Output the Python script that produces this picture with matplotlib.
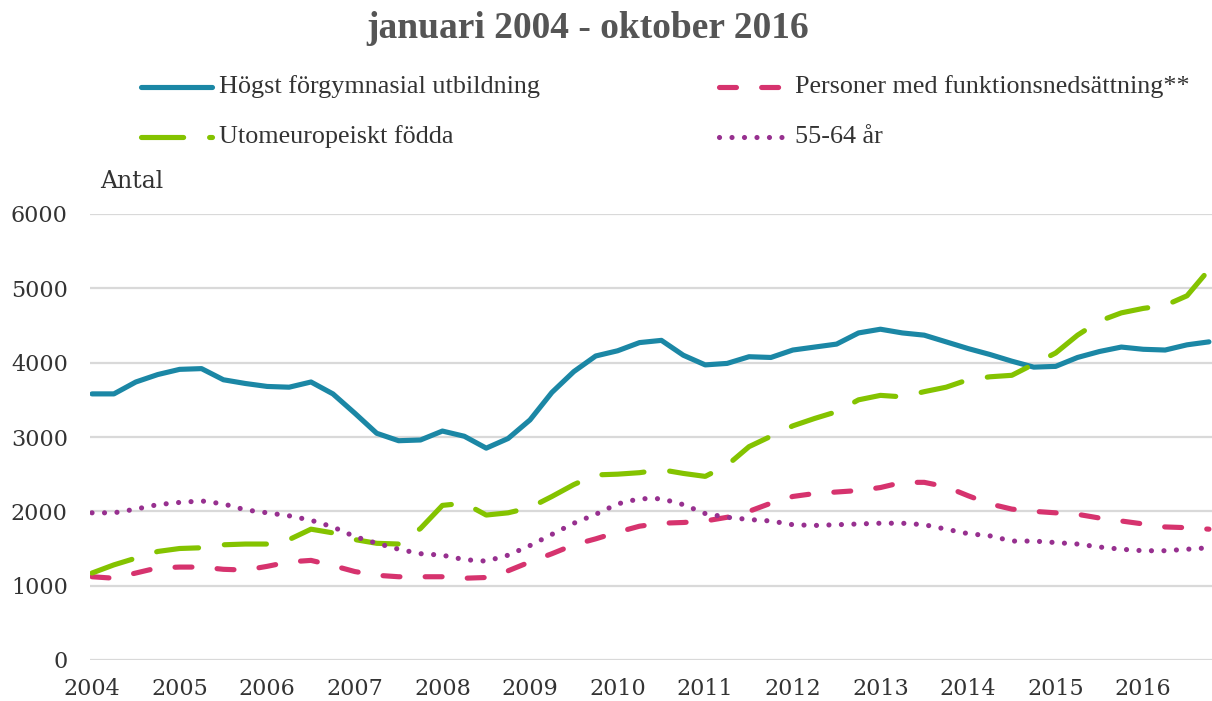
import numpy as np
import pandas as pd
import matplotlib
matplotlib.use("Agg")
import matplotlib.pyplot as plt
from matplotlib.lines import Line2D

# ---- data (quarterly readings, Jan 2004 - Oct 2016) ----
dates = pd.date_range("2004-01-01", "2016-10-01", freq="3MS")

forgymnasial = [3580, 3580, 3740, 3840, 3910, 3920, 3770, 3720, 3680, 3670, 3740, 3580,
                3320, 3050, 2950, 2960, 3080, 3010, 2850, 2980, 3230, 3600, 3880, 4090,
                4160, 4270, 4300, 4100, 3970, 3990, 4080, 4070, 4170, 4210, 4250, 4400,
                4450, 4400, 4370, 4280, 4190, 4110, 4020, 3940, 3950, 4070, 4150, 4210,
                4180, 4170, 4240, 4280]
utomeuropeiskt = [1170, 1280, 1370, 1460, 1500, 1510, 1550, 1560, 1560, 1620, 1760, 1710,
                  1620, 1570, 1560, 1770, 2080, 2110, 1950, 1980, 2050, 2200, 2360, 2490,
                  2500, 2520, 2560, 2510, 2470, 2620, 2870, 3010, 3150, 3250, 3340, 3500,
                  3560, 3540, 3610, 3670, 3770, 3810, 3830, 3980, 4130, 4370, 4560, 4670,
                  4730, 4770, 4900, 5250]
funktionsnedsattning = [1120, 1100, 1170, 1240, 1250, 1250, 1220, 1210, 1260, 1320, 1340, 1270,
                        1190, 1140, 1120, 1120, 1120, 1100, 1110, 1200, 1320, 1430, 1550, 1630,
                        1720, 1800, 1840, 1850, 1870, 1920, 2000, 2110, 2200, 2240, 2260, 2280,
                        2320, 2390, 2390, 2330, 2210, 2100, 2030, 2000, 1980, 1960, 1910, 1870,
                        1830, 1790, 1780, 1760]
ar_55_64 = [1980, 1980, 2030, 2090, 2120, 2140, 2100, 2020, 1980, 1940, 1880, 1790,
            1660, 1570, 1490, 1430, 1410, 1350, 1330, 1410, 1540, 1690, 1840, 1960,
            2100, 2170, 2170, 2090, 1970, 1920, 1890, 1870, 1820, 1810, 1820, 1830,
            1840, 1840, 1820, 1760, 1700, 1670, 1600, 1600, 1580, 1560, 1520, 1490,
            1470, 1470, 1490, 1510]

years = list(range(2004, 2017))
yticks = [0, 1000, 2000, 3000, 4000, 5000, 6000]
labels = ["Högst förgymnasial utbildning", "Personer med funktionsnedsättning**",
          "Utomeuropeiskt födda", "55-64 år"]
title = "januari 2004 - oktober 2016"

# ---- styles ----
BLUE, PINK, GREEN, PURPLE = "#1B87A5", "#D6336E", "#84C300", "#97308F"
LW = 3.7
styles = {
    "blue": dict(color=BLUE, lw=LW, ls="-", solid_capstyle="round", solid_joinstyle="round"),
    "pink": dict(color=PINK, lw=LW, ls=(0, (3.3, 4.9)), dash_capstyle="round", dash_joinstyle="round"),
    "green": dict(color=GREEN, lw=LW, ls=(0, (8.2, 5.05)), dash_capstyle="round", dash_joinstyle="round"),
    "purple": dict(color=PURPLE, lw=LW, ls=(0, (0.01, 2.42)), dash_capstyle="round"),
}

W, H = 1212, 701
fig = plt.figure(figsize=(W / 100, H / 100), dpi=100)
ax = fig.add_axes([90 / W, (H - 660) / H, (W - 90) / W, (660 - 214) / H])

t = dates.year + (dates.month - 1) / 12.0

ax.plot(t, forgymnasial, zorder=3, **styles["blue"])
ax.plot(t, funktionsnedsattning, zorder=4, **styles["pink"])
ax.plot(t, utomeuropeiskt, zorder=5, **styles["green"])
ax.plot(t, ar_55_64, zorder=6, **styles["purple"])

ax.set_ylim(0, 6000)
ax.set_xlim(2004 - 0.023, 2004 + 12.785)
ax.set_yticks(yticks)
ax.set_yticklabels([str(v) for v in yticks])
ax.set_xticks(years)
ax.set_xticklabels([str(y) for y in years])
ax.grid(axis="y", color="#D9D9D9", lw=1.6, zorder=0)
ax.grid(axis="x", visible=False)
for s in ax.spines.values():
    s.set_visible(False)
ax.tick_params(length=0, labelsize=16, labelcolor="#333333")
ax.tick_params(axis="x", pad=13)
ax.tick_params(axis="y", pad=16)
for lab in ax.get_xticklabels() + ax.get_yticklabels():
    lab.set_fontfamily("DejaVu Serif")

# Antal
fig.text(100 / W, 1 - 182 / H, "Antal", fontsize=17, family="DejaVu Serif",
         color="#333333", va="center", ha="left")

# Title
fig.text(588 / W, 1 - 28 / H, title, fontsize=27, family="Liberation Serif",
         fontweight="bold", color="#555555", ha="center", va="center")

# Legend (manual)
entries = [
    ("blue", labels[0], 141, 212, 219, 87),
    ("pink", labels[1], 719, 782, 795, 87),
    ("green", labels[2], 141, 212, 219, 137),
    ("purple", labels[3], 719, 782, 795, 137),
]
for key, text, x0, x1, xt, y in entries:
    ln = Line2D([x0 / W, x1 / W], [1 - y / H, 1 - y / H], transform=fig.transFigure, **styles[key])
    fig.add_artist(ln)
    fig.text(xt / W, 1 - y / H, text, fontsize=18.8, family="Liberation Serif",
             color="#333333", ha="left", va="center")

fig.savefig("out.png", dpi=100)
